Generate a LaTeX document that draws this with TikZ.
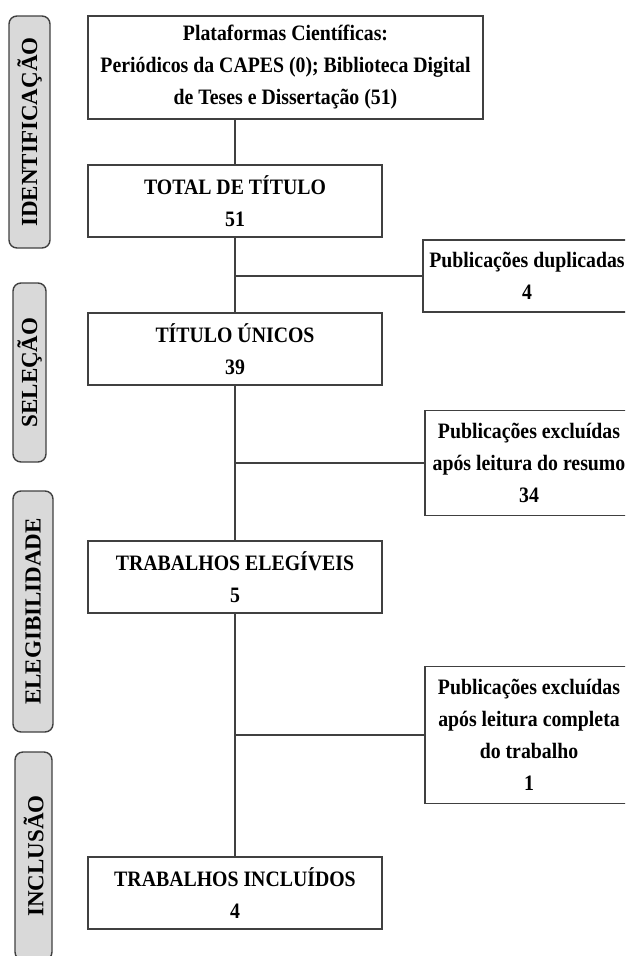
\documentclass[tikz,border=0pt]{standalone}
\usepackage{fontspec}
\setmainfont{Liberation Serif}[FakeStretch=0.9]
\newfontfamily\fasefont{Liberation Serif}
\usetikzlibrary{positioning}
\begin{document}
\begin{tikzpicture}[x=1pt, y=-1pt,
            etapa/.style={rectangle, draw=black!75, line width=1.4pt, minimum width=294pt, minimum height=72pt, inner sep=0pt, align=center, font=\bfseries\fontsize{22}{32}\selectfont},
            exclui/.style={etapa, minimum width=208pt},
            fase/.style={rectangle, rounded corners=8pt, draw=black!75, fill=black!15, line width=1.4pt, inner sep=0pt, rotate=90, font=\fasefont\bfseries\fontsize{23}{32}\selectfont},
            liga/.style={draw=black!75, line width=2pt},
        ]
            \clip (0,0) rectangle (625,956);
            % fases
            \node(ident) at (29.5,132) [fase, minimum width=232pt, minimum height=41pt] {IDENTIFICAÇÃO};
            \node(selecao) at (29.5,372.5) [fase, minimum width=179pt, minimum height=33pt] {SELEÇÃO};
            \node(elegib) at (33,611.5) [fase, minimum width=241pt, minimum height=40pt] {ELEGIBILIDADE};
            \node(inclusao) at (33.5,856) [fase, minimum width=208pt, minimum height=37pt] {INCLUSÃO};
            % caixas principais
            \node(fonte) at (285.5,67.5) [etapa, minimum width=395pt, minimum height=103pt] {Plataformas Científicas:\\ Periódicos da CAPES (0); Biblioteca Digital\\ de Teses e Dissertação (51)};
            \node(total) at (235,201) [etapa] {TOTAL DE TÍTULO\\ 51};
            \node(unicos) at (235,349) [etapa] {TÍTULO ÚNICOS\\ 39};
            \node(elegiveis) at (235,577) [etapa] {TRABALHOS ELEGÍVEIS\\ 5};
            \node(incluidos) at (235,893) [etapa] {TRABALHOS INCLUÍDOS\\ 4};
            % exclusoes
            \node(dup) at (527,276) [exclui] {Publicações duplicadas\\ 4};
            \node(resumo) at (529,463) [exclui, minimum height=105pt] {Publicações excluídas\\ após leitura do resumo\\ 34};
            \node(completa) at (529,735) [exclui, minimum height=137pt] {Publicações excluídas\\ após leitura completa\\ do trabalho\\ 1};
            \draw[liga] (total.north |- fonte.south) -- (total.north);
            \draw[liga] (total.south) -- (unicos.north);
            \draw[liga] (unicos.south) -- (elegiveis.north);
            \draw[liga] (elegiveis.south) -- (incluidos.north);
            \draw[liga] (total.south |- dup.west) -- (dup.west);
            \draw[liga] (unicos.south |- resumo.west) -- (resumo.west);
            \draw[liga] (elegiveis.south |- completa.west) -- (completa.west);
        \end{tikzpicture}
\end{document}
